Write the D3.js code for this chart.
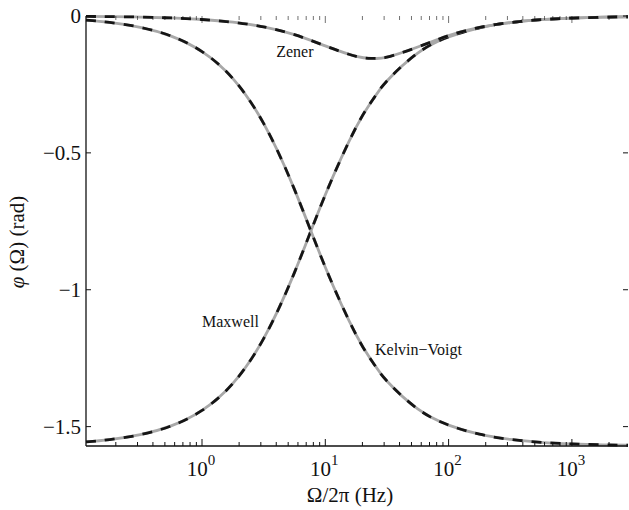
<!DOCTYPE html>
<html>
<head>
<meta charset="utf-8">
<script src="https://cdn.jsdelivr.net/npm/d3@7"></script>
<style>
body{margin:0;background:#fff;}
</style>
</head>
<body>
<div id="my_dataviz"></div>
<script>
// frequencies (Hz) and phase values (rad)
var freq = [0.1146, 0.178, 0.316, 0.562, 1, 1.78, 3.16, 5.62, 10, 17.8, 24.4, 31.6, 56.2, 100, 178, 316, 562, 1000, 1780, 2851];
var maxwell = [-1.5558, -1.5475, -1.5295, -1.4975, -1.4408, -1.3422, -1.1784, -0.9374, -0.6532, -0.4058, -0.3042, -0.2375, -0.1353, -0.0764, -0.0430, -0.0242, -0.0136, -0.0077, -0.0043, -0.0027];
var kelvin = [-0.0150, -0.0233, -0.0413, -0.0733, -0.1300, -0.2286, -0.3924, -0.6334, -0.9176, -1.1650, -1.2666, -1.3333, -1.4355, -1.4944, -1.5278, -1.5466, -1.5572, -1.5631, -1.5665, -1.5681];
var zener = [-0.0015, -0.0023, -0.0040, -0.0072, -0.0128, -0.0227, -0.0398, -0.0683, -0.1093, -0.1475, -0.1548, -0.1504, -0.1134, -0.0717, -0.0419, -0.0240, -0.0135, -0.0076, -0.0043, -0.0027];
var yTicks = [0, -0.5, -1, -1.5];
var xTicks = [1, 10, 100, 1000];
var labels = [
  {text: "Zener", f: 4.0, v: -0.15},
  {text: "Maxwell", f: 1.0, v: -1.135},
  {text: "Kelvin\u2212Voigt", f: 25.3, v: -1.237}
];

var W = 629, H = 510;
var margin = {top: 16, right: 1, bottom: 64, left: 86};
var width = W - margin.left - margin.right;
var height = H - margin.top - margin.bottom;
var serif = "Times New Roman, Times, Liberation Serif, DejaVu Serif, serif";

var svg = d3.select("#my_dataviz").append("svg")
  .attr("width", W).attr("height", H)
  .style("font-family", serif);
var g = svg.append("g")
  .attr("transform", "translate(" + margin.left + "," + margin.top + ")");

var x = d3.scaleLog().domain([0.1146, 2851]).range([0, width]);
var y = d3.scaleLinear().domain([-Math.PI / 2, 0]).range([height, 0]);

// curves: grey solid underneath, black dashes on top
var line = d3.line().curve(d3.curveNatural)
  .x(function(d){ return x(d[0]); })
  .y(function(d){ return y(d[1]); });
[maxwell, kelvin, zener].forEach(function(s){
  var pts = freq.map(function(f, i){ return [f, s[i]]; });
  g.append("path").datum(pts).attr("d", line)
    .attr("fill", "none").attr("stroke", "#a8a8a8").attr("stroke-width", 2.8);
  g.append("path").datum(pts).attr("d", line)
    .attr("fill", "none").attr("stroke", "#151515").attr("stroke-width", 2.8)
    .attr("stroke-dasharray", "10,9");
});

// axes lines
g.append("line").attr("x1", 0).attr("x2", 0).attr("y1", 0).attr("y2", height)
  .attr("stroke", "#111").attr("stroke-width", 1.3);
g.append("line").attr("x1", 0).attr("x2", width).attr("y1", height).attr("y2", height)
  .attr("stroke", "#111").attr("stroke-width", 1.3);

// y ticks (inward, left and right)
yTicks.forEach(function(t){
  g.append("line").attr("x1", 0).attr("x2", 5).attr("y1", y(t)).attr("y2", y(t))
    .attr("stroke", "#111");
  g.append("line").attr("x1", width).attr("x2", width - 5).attr("y1", y(t)).attr("y2", y(t))
    .attr("stroke", "#111");
  g.append("text").attr("x", -5).attr("y", y(t) + 7)
    .attr("text-anchor", "end").attr("fill", "#111").style("font-size", "21px")
    .text(t === 0 ? "0" : "\u2212" + Math.abs(t));
});

// x ticks, major and minor (inward, bottom and top)
x.ticks().forEach(function(t){
  var major = xTicks.indexOf(t) >= 0;
  var len = major ? 7 : 4;
  g.append("line").attr("x1", x(t)).attr("x2", x(t)).attr("y1", height).attr("y2", height - len)
    .attr("stroke", "#111");
  g.append("line").attr("x1", x(t)).attr("x2", x(t)).attr("y1", 0).attr("y2", len)
    .attr("stroke", "#111").attr("stroke-width", 0.6);
});
xTicks.forEach(function(t){
  var lab = g.append("text").attr("x", x(t) - 1).attr("y", height + 30)
    .attr("text-anchor", "middle").attr("fill", "#111").style("font-size", "21px");
  lab.append("tspan").text("10");
  lab.append("tspan").attr("dy", -11).style("font-size", "15px").text(Math.round(Math.log10(t)));
});

// axis titles
svg.append("text").attr("x", 350).attr("y", 502).attr("text-anchor", "middle")
  .attr("fill", "#111").style("font-size", "21px").text("\u03A9/2\u03C0  (Hz)");
svg.append("text").attr("transform", "translate(24,242) rotate(-90)")
  .attr("text-anchor", "middle").attr("fill", "#111").style("font-size", "21px")
  .html('<tspan font-style="italic">\u03C6</tspan> (\u03A9)  (rad)');

// curve labels
labels.forEach(function(l){
  g.append("text").attr("x", x(l.f)).attr("y", y(l.v))
    .attr("fill", "#111").style("font-size", "16px").text(l.text);
});
</script>
</body>
</html>
